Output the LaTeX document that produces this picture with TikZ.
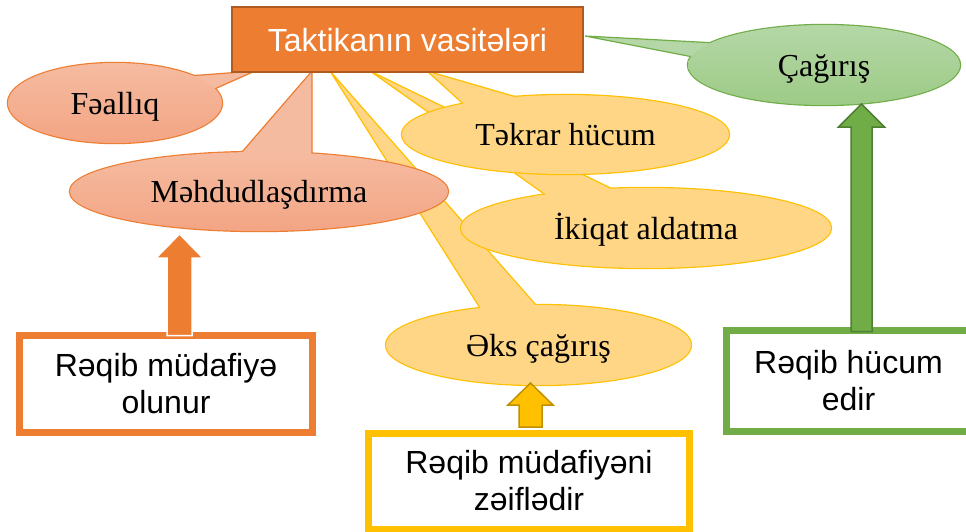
\documentclass[tikz,border=0pt]{standalone}
\usepackage{fontspec}
\setmainfont{Liberation Serif}
\newfontfamily\sansA{Liberation Sans}
\usetikzlibrary{shapes.geometric,calc}
\definecolor{orC}{HTML}{ED7D31}
\definecolor{orDark}{HTML}{AE5A21}
\definecolor{salTop}{HTML}{F5BBA1}
\definecolor{salBot}{HTML}{F3A584}
\definecolor{yeFill}{HTML}{FED685}
\definecolor{yeLine}{HTML}{FFC000}
\definecolor{yeDark}{HTML}{BF9000}
\definecolor{grTop}{HTML}{B5D7A7}
\definecolor{grBot}{HTML}{9DCB86}
\definecolor{grLine}{HTML}{70AD47}
\definecolor{grDark}{HTML}{507E32}
\tikzset{
  ringline/.style={line width=2.4pt},
  tailline/.style={line width=1.2pt, line join=miter},
  bubble/.style={ellipse, inner sep=0pt, font=\fontsize{32}{37}\selectfont,
    text height=24pt, text depth=2pt},
  topbox/.style={rectangle, inner sep=0pt, fill=orC, draw=orDark, line width=1.5pt,
    text=white, font=\sansA\fontsize{32}{37}\selectfont, text height=23pt, text depth=0pt},
  framebox/.style={rectangle, inner sep=0pt, line width=7pt, align=center,
    font=\sansA\fontsize{32}{37}\selectfont},
  blockarrow/.style={line width=1.5pt, line join=miter},
}
\begin{document}
\begin{tikzpicture}[x=1pt,y=-1pt]
\fill[white] (0,0) rectangle (966,531);
\useasboundingbox (0,0) rectangle (966,531);

% ---------- Əks çağırış ----------
\coordinate (ec) at (538.5,345);
\coordinate (et) at (330,71);
\coordinate (eb1) at (480,308);
\coordinate (eb2) at (536,305);
\draw[yeLine, ringline] (ec) ellipse [x radius=152.5pt, y radius=40pt];
\draw[yeLine, tailline, fill=yeFill] (et) -- ($(eb1)!-12pt!(et)$) -- ($(eb2)!-12pt!(et)$) -- cycle;
\node[bubble, fill=yeFill, minimum width=305pt, minimum height=80pt] (eks) at (ec) {Əks çağırış};

% ---------- İkiqat aldatma ----------
\coordinate (ic) at (646,228);
\coordinate (it) at (370,71);
\coordinate (ib1) at (545,194.5);
\coordinate (ib2) at (612,188.7);
\draw[yeLine, ringline] (ic) ellipse [x radius=185pt, y radius=40pt];
\draw[yeLine, tailline, fill=yeFill] (it) -- ($(ib1)!-12pt!(it)$) -- ($(ib2)!-12pt!(it)$) -- cycle;
\node[bubble, fill=yeFill, minimum width=370pt, minimum height=80pt] (ikiqat) at (ic) {İkiqat aldatma};

% ---------- Təkrar hücum ----------
\coordinate (tc) at (565.5,134.5);
\coordinate (tt) at (427,71);
\coordinate (tb1) at (463,103.7);
\coordinate (tb2) at (516,96.8);
\draw[yeLine, ringline] (tc) ellipse [x radius=163.5pt, y radius=39.5pt];
\draw[yeLine, tailline, fill=yeFill] (tt) -- ($(tb1)!-12pt!(tt)$) -- ($(tb2)!-12pt!(tt)$) -- cycle;
\node[bubble, fill=yeFill, minimum width=327pt, minimum height=79pt] (tekrar) at (tc) {Təkrar hücum};

% ---------- Fəallıq ----------
\coordinate (fc) at (115,103);
\coordinate (ft) at (255,71);
\coordinate (fb1) at (193,75.6);
\coordinate (fb2) at (215,88.8);
\draw[orC, ringline] (fc) ellipse [x radius=107pt, y radius=40pt];
\draw[orC, tailline, fill=salTop] (ft) -- ($(fb1)!-12pt!(ft)$) -- ($(fb2)!-12pt!(ft)$) -- cycle;
\node[bubble, top color=salTop, bottom color=salBot, minimum width=214pt, minimum height=80pt] (faal) at (fc) {Fəallıq};

% ---------- Məhdudlaşdırma ----------
\coordinate (mc) at (259,191.5);
\coordinate (mt) at (312,71);
\coordinate (mb1) at (242,152);
\coordinate (mb2) at (312,153.6);
\draw[orC, ringline] (mc) ellipse [x radius=189pt, y radius=39.5pt];
\draw[orC, tailline, fill=salTop] (mt) -- ($(mb1)!-12pt!(mt)$) -- ($(mb2)!-12pt!(mt)$) -- cycle;
\node[bubble, top color=salTop, bottom color=salBot, minimum width=378pt, minimum height=79pt] (mehd) at (mc) {Məhdudlaşdırma};

% ---------- Çağırış ----------
\coordinate (cc) at (824,65);
\coordinate (ct) at (585,36);
\coordinate (cb1) at (711,42.7);
\coordinate (cb2) at (691,56.6);
\draw[grLine, ringline] (cc) ellipse [x radius=136pt, y radius=40pt];
\draw[grLine, tailline, fill=grTop] (ct) -- ($(cb1)!-12pt!(ct)$) -- ($(cb2)!-12pt!(ct)$) -- cycle;
\node[bubble, top color=grTop, bottom color=grBot, minimum width=272pt, minimum height=80pt] (cagiris) at (cc) {Çağırış};

% ---------- top box ----------
\node[topbox, minimum width=351pt, minimum height=65pt] (top) at (407.5,39.5) {Taktikanın vasitələri};

% ---------- frame boxes ----------
\node[framebox, draw=orC, minimum width=293pt, minimum height=97pt] (rdef) at (166,384) {Rəqib müdafiyə\\olunur};
\node[framebox, draw=yeLine, minimum width=321pt, minimum height=96pt] (rweak) at (529,481) {Rəqib müdafiyəni\\zəiflədir};
\node[framebox, draw=grLine, minimum width=244pt, minimum height=101pt] (ratt) at (848.5,381) {Rəqib hücum\\edir};

% ---------- block arrows ----------
\coordinate (oa1) at (179.5,335.5);
\coordinate (oa2) at (179.5,234);
\draw[blockarrow, draw=white, fill=orC]
  ($(oa1)+(-12.5,0)$) -- ($(oa2)+(-12.5,24)$) -- ($(oa2)+(-23.5,24)$) -- (oa2)
  -- ($(oa2)+(23.5,24)$) -- ($(oa2)+(12.5,24)$) -- ($(oa1)+(12.5,0)$) -- cycle;

\coordinate (ya1) at (530.5,427);
\coordinate (ya2) at (530.5,383);
\draw[blockarrow, draw=yeDark, fill=yeLine]
  ($(ya1)+(-11.5,0)$) -- ($(ya2)+(-11.5,22)$) -- ($(ya2)+(-22.5,22)$) -- (ya2)
  -- ($(ya2)+(22.5,22)$) -- ($(ya2)+(11.5,22)$) -- ($(ya1)+(11.5,0)$) -- cycle;

\coordinate (ga1) at (861.5,331.5);
\coordinate (ga2) at (861.5,104);
\draw[blockarrow, draw=grDark, fill=grLine]
  ($(ga1)+(-10.5,0)$) -- ($(ga2)+(-10.5,23)$) -- ($(ga2)+(-23,23)$) -- (ga2)
  -- ($(ga2)+(23,23)$) -- ($(ga2)+(10.5,23)$) -- ($(ga1)+(10.5,0)$) -- cycle;
\end{tikzpicture}
\end{document}
